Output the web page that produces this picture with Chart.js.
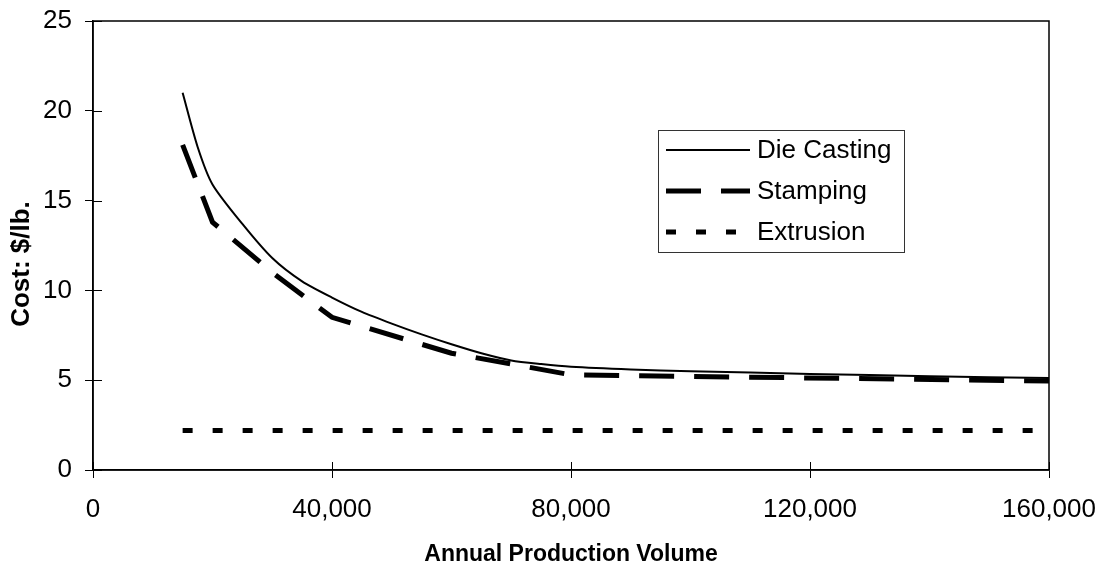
<!DOCTYPE html>
<html>
<head>
<meta charset="utf-8">
<script src="https://cdn.jsdelivr.net/npm/chart.js@4"></script>
<style>
  html, body { margin: 0; padding: 0; background: #fff; }
  #wrap { width: 1102px; height: 565px; }
</style>
</head>
<body>
<div id="wrap"><canvas id="costChart" width="1102" height="565"></canvas></div>
<script>
// volumes (parts/yr) and cost ($/lb.)
const dieCastingVolume = [15000, 17500, 20000, 25000, 30000, 35000, 40000, 45000, 50000, 55000, 60000, 65000, 70000, 75000, 80000, 90000, 100000, 120000, 140000, 160000];
const dieCastingCost   = [21.0, 18.0, 15.9, 13.7, 11.8, 10.5, 9.6, 8.8, 8.15, 7.55, 7.0, 6.5, 6.1, 5.9, 5.75, 5.6, 5.5, 5.35, 5.22, 5.12];

const stampingVolume = [15000, 20000, 30000, 40000, 60000, 80000, 160000];
const stampingCost   = [18.1, 13.8, 11.0, 8.5, 6.5, 5.3, 4.95];

const extrusionVolume = [15000, 160000];
const extrusionCost   = [2.2, 2.2];

const seriesNames = ['Die Casting', 'Stamping', 'Extrusion'];
const xTicks = [0, 40000, 80000, 120000, 160000];
const yTicks = [0, 5, 10, 15, 20, 25];

const FONT = '"Liberation Sans", Arial, sans-serif';

function toPoints(xs, ys) {
    return xs.map((x, i) => ({ x: x, y: ys[i] }));
}

// frame, inner tick marks, y title and the boxed legend
const decorations = {
    id: 'decorations',
    afterDraw(chart) {
        const ctx = chart.ctx;
        const a = chart.chartArea;
        const xs = chart.scales.x, ys = chart.scales.y;
        ctx.save();
        ctx.strokeStyle = '#000';
        ctx.lineWidth = 1.5;
        ctx.strokeRect(a.left, a.top, a.right - a.left, a.bottom - a.top);

        ctx.lineWidth = 1;
        ctx.beginPath();
        yTicks.forEach(v => {
            const y = Math.round(ys.getPixelForValue(v)) + 0.5;
            ctx.moveTo(a.left, y); ctx.lineTo(a.left + 9, y);
        });
        xTicks.forEach(v => {
            const x = Math.round(xs.getPixelForValue(v)) + 0.5;
            ctx.moveTo(x, a.bottom); ctx.lineTo(x, a.bottom - 8);
        });
        ctx.stroke();

        // y axis title
        ctx.save();
        ctx.translate(22, 264);
        ctx.rotate(-Math.PI / 2);
        ctx.font = 'bold 26px ' + FONT;
        ctx.fillStyle = '#000';
        ctx.textAlign = 'center';
        ctx.textBaseline = 'middle';
        ctx.fillText('Cost: $/lb.', 0, 0);
        ctx.restore();

        // legend
        const box = { x: 658, y: 130, w: 246, h: 122 };
        ctx.lineWidth = 1;
        ctx.strokeStyle = '#333';
        ctx.strokeRect(box.x + 0.5, box.y + 0.5, box.w, box.h);
        ctx.font = '26px ' + FONT;
        ctx.fillStyle = '#000';
        ctx.textBaseline = 'middle';
        ctx.textAlign = 'left';
        chart.data.datasets.forEach((ds, i) => {
            const y = 150 + i * 41;
            ctx.save();
            ctx.strokeStyle = ds.borderColor;
            ctx.lineWidth = ds.borderWidth;
            ctx.setLineDash(ds.borderDash || []);
            ctx.beginPath();
            ctx.moveTo(666, y);
            ctx.lineTo(750, y);
            ctx.stroke();
            ctx.restore();
            ctx.fillText(ds.label, 757, y + 1);
        });
        ctx.restore();
    }
};

const ctx = document.getElementById('costChart').getContext('2d');
const costChart = new Chart(ctx, {
    type: 'line',
    data: {
        datasets: [{
            label: seriesNames[0],
            data: toPoints(dieCastingVolume, dieCastingCost),
            borderColor: '#000',
            borderWidth: 2,
            pointRadius: 0,
            tension: 0.25
        }, {
            label: seriesNames[1],
            data: toPoints(stampingVolume, stampingCost),
            borderColor: '#000',
            borderWidth: 5,
            borderDash: [35, 20],
            borderCapStyle: 'butt',
            pointRadius: 0,
            tension: 0
        }, {
            label: seriesNames[2],
            data: toPoints(extrusionVolume, extrusionCost),
            borderColor: '#000',
            borderWidth: 5,
            borderDash: [10, 20],
            borderCapStyle: 'butt',
            pointRadius: 0,
            tension: 0
        }]
    },
    options: {
        responsive: false,
        animation: false,
        devicePixelRatio: 1,
        layout: { padding: { top: 21, right: 53, left: 0, bottom: 0 } },
        plugins: {
            legend: { display: false },
            tooltip: { enabled: false }
        },
        scales: {
            x: {
                type: 'linear',
                min: 0,
                max: 160000,
                afterFit: s => { s.height = 95; s.paddingLeft = 0; s.paddingRight = 0; },
                afterBuildTicks: s => { s.ticks = xTicks.map(v => ({ value: v })); },
                ticks: {
                    color: '#000',
                    font: { family: FONT, size: 26 },
                    padding: 16,
                    maxRotation: 0,
                    callback: v => v.toLocaleString('en-US')
                },
                grid: { drawOnChartArea: false, tickLength: 8, color: '#000', lineWidth: 1 },
                border: { display: true, color: '#000', width: 1.5 },
                title: {
                    display: true,
                    text: 'Annual Production Volume',
                    color: '#000',
                    font: { family: FONT, size: 23, weight: 'bold', lineHeight: 1 },
                    padding: { top: 0, bottom: -1 }
                }
            },
            y: {
                min: 0,
                max: 25,
                afterFit: s => { s.width = 93; s.paddingTop = 0; s.paddingBottom = 0; },
                afterBuildTicks: s => { s.ticks = yTicks.map(v => ({ value: v })); },
                ticks: {
                    color: '#000',
                    font: { family: FONT, size: 26 },
                    padding: 13
                },
                grid: { drawOnChartArea: false, tickLength: 8, color: '#000', lineWidth: 1 },
                border: { display: true, color: '#000', width: 1.5 }
            }
        }
    },
    plugins: [decorations]
});
</script>
</body>
</html>
